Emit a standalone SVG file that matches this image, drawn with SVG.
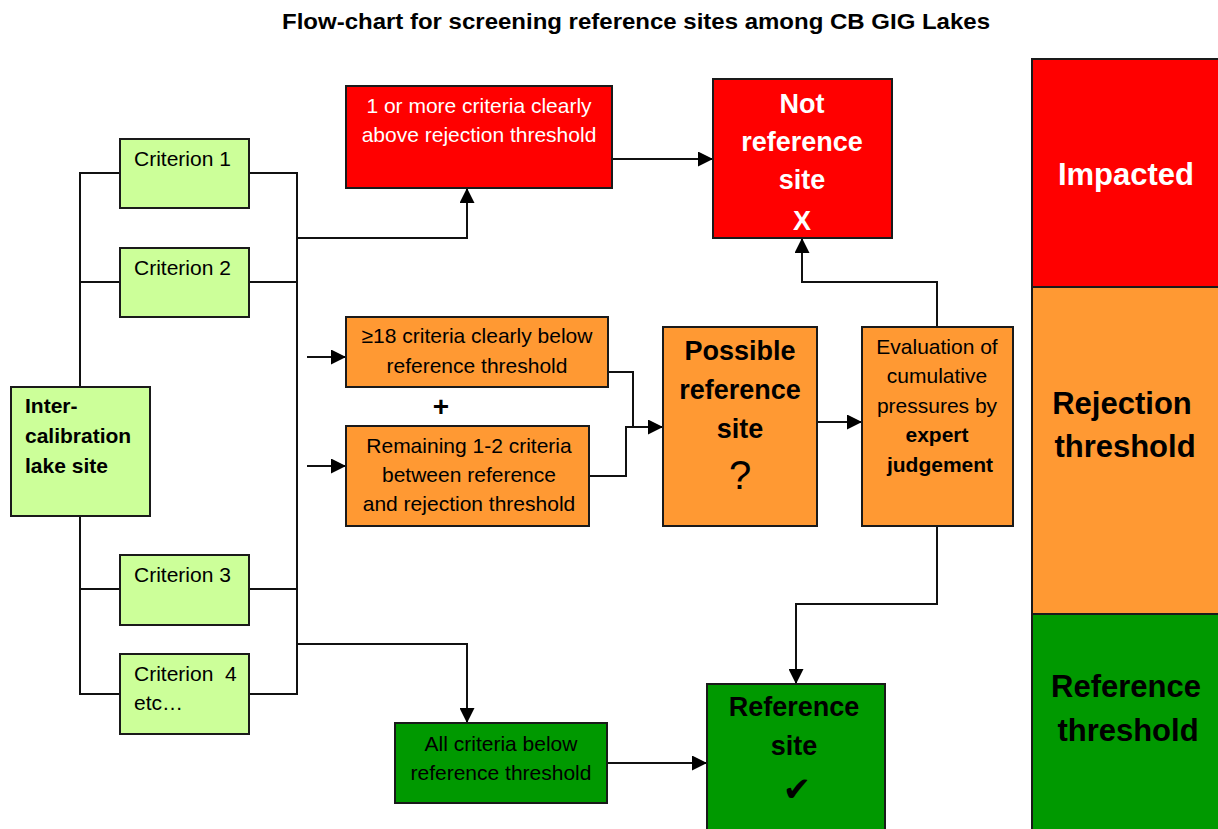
<svg xmlns="http://www.w3.org/2000/svg" width="1218" height="829" viewBox="0 0 1218 829">
<style>
.box{stroke:#1a1a1a;stroke-width:2}
.lg{fill:#ccff99}.rd{fill:#ff0000}.or{fill:#ff9933}.gr{fill:#009900}
.ln{fill:none;stroke:#111;stroke-width:2}
text{font-family:"Liberation Sans",Arial,sans-serif;fill:#000}
.t{font-size:21px}
.c{text-anchor:middle}
.b{font-weight:bold}
.big{font-size:27px;font-weight:bold;text-anchor:middle}
.side{font-size:31px;font-weight:bold;text-anchor:middle}
.w{fill:#fff}
</style>
<defs>
<marker id="ah" markerUnits="userSpaceOnUse" markerWidth="15" markerHeight="15" refX="15" refY="7.5" orient="auto">
<path d="M0,0 L15,7.5 L0,15 z" fill="#000"/>
</marker>
</defs>
<rect width="1218" height="829" fill="#fff"/>
<text x="636" y="29" class="b c" font-size="22" textLength="708" lengthAdjust="spacingAndGlyphs">Flow-chart for screening reference sites among CB GIG Lakes</text>

<g id="connectors">
<path class="ln" d="M120,173 H80 V694 H120 M80,282 H120 M80,589 H120"/>
<path class="ln" d="M249,173 H297 V694 H249 M249,282 H297 M249,589 H297"/>
<path class="ln" d="M297,238 H467 V188" marker-end="url(#ah)"/>
<path class="ln" d="M297,644 H467 V723" marker-end="url(#ah)"/>
<path class="ln" d="M307,357 H346" marker-end="url(#ah)"/>
<path class="ln" d="M307,466 H346" marker-end="url(#ah)"/>
<path class="ln" d="M610,159 H713" marker-end="url(#ah)"/>
<path class="ln" d="M603,372 H633 V427"/>
<path class="ln" d="M589,476 H626 V427 H663" marker-end="url(#ah)"/>
<path class="ln" d="M817,422 H862" marker-end="url(#ah)"/>
<path class="ln" d="M937,327 V282 H802 V238" marker-end="url(#ah)"/>
<path class="ln" d="M937,526 V604 H796 V684" marker-end="url(#ah)"/>
<path class="ln" d="M605,763 H707" marker-end="url(#ah)"/>
</g>

<g id="criterion1">
<rect class="box lg" x="120" y="139" width="129" height="69"/>
<text class="t" x="134" y="166">Criterion 1</text>
</g>
<g id="criterion2">
<rect class="box lg" x="120" y="248" width="129" height="69"/>
<text class="t" x="134" y="275">Criterion 2</text>
</g>
<g id="criterion3">
<rect class="box lg" x="120" y="555" width="129" height="70"/>
<text class="t" x="134" y="582">Criterion 3</text>
</g>
<g id="criterion4">
<rect class="box lg" x="120" y="654" width="129" height="80"/>
<text class="t" x="134" y="681" xml:space="preserve">Criterion  4</text>
<text class="t" x="134" y="710">etc…</text>
</g>
<g id="intercalibration">
<rect class="box lg" x="11" y="387" width="139" height="129"/>
<text class="t b" x="25" y="413">Inter-</text>
<text class="t b" x="25" y="443">calibration</text>
<text class="t b" x="25" y="473">lake site</text>
</g>

<g id="above-rejection">
<rect class="box rd" x="346" y="86" width="266" height="102"/>
<text class="t c w" x="479" y="113">1 or more criteria clearly</text>
<text class="t c w" x="479" y="142">above rejection threshold</text>
</g>
<g id="below-reference">
<rect class="box or" x="346" y="317" width="262" height="70"/>
<text class="t c" x="477" y="343">≥18 criteria clearly below</text>
<text class="t c" x="477" y="373">reference threshold</text>
</g>
<text x="441" y="416" class="b c" font-size="28">+</text>
<g id="remaining">
<rect class="box or" x="346" y="426" width="243" height="100"/>
<text class="t c" x="469" y="453">Remaining 1-2 criteria</text>
<text class="t c" x="469" y="482">between reference</text>
<text class="t c" x="469" y="511">and rejection threshold</text>
</g>
<g id="all-below">
<rect class="box gr" x="395" y="723" width="212" height="80"/>
<text class="t c" x="501" y="751">All criteria below</text>
<text class="t c" x="501" y="780">reference threshold</text>
</g>

<g id="not-reference">
<rect class="box rd" x="713" y="79" width="179" height="159"/>
<text class="big w" x="802" y="113">Not</text>
<text class="big w" x="802" y="151">reference</text>
<text class="big w" x="802" y="189">site</text>
<text class="big w" x="802" y="230" font-size="29">X</text>
</g>
<g id="possible-reference">
<rect class="box or" x="663" y="327" width="154" height="199"/>
<text class="big" x="740" y="360">Possible</text>
<text class="big" x="740" y="399">reference</text>
<text class="big" x="740" y="438">site</text>
<text class="c" x="740" y="489" font-size="40">?</text>
</g>
<g id="evaluation">
<rect class="box or" x="862" y="327" width="151" height="199"/>
<text class="t c" x="937" y="354">Evaluation of</text>
<text class="t c" x="937" y="383">cumulative</text>
<text class="t c" x="937" y="413">pressures by</text>
<text class="t c b" x="937" y="442">expert</text>
<text class="t c b" x="940" y="472">judgement</text>
</g>
<g id="reference-site">
<rect class="box gr" x="707" y="684" width="178" height="160"/>
<text class="big" x="794" y="716">Reference</text>
<text class="big" x="794" y="755">site</text>
<text x="797" y="801" text-anchor="middle" font-size="34" style="font-family:'DejaVu Sans',sans-serif">✔</text>
</g>

<g id="legend">
<rect class="box rd" x="1032" y="59" width="200" height="228"/>
<rect class="box or" x="1032" y="287" width="200" height="327"/>
<rect class="box gr" x="1032" y="614" width="200" height="230"/>
<text class="side w" x="1126" y="185">Impacted</text>
<text class="side" x="1122" y="414">Rejection</text>
<text class="side" x="1125" y="457">threshold</text>
<text class="side" x="1126" y="697">Reference</text>
<text class="side" x="1128" y="741">threshold</text>
</g>
</svg>
